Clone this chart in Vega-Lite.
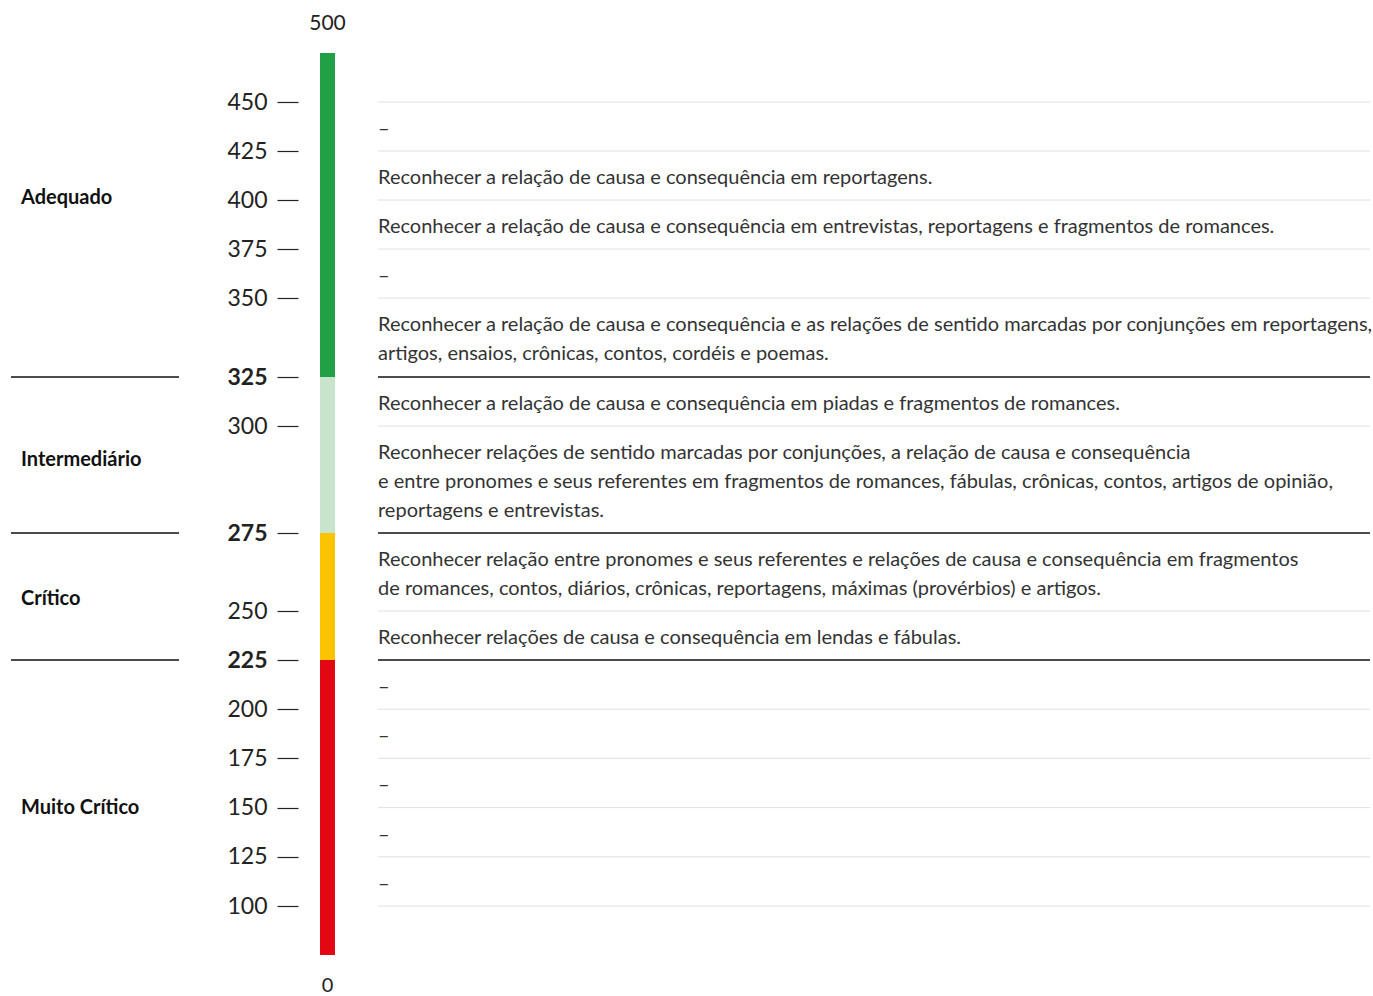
{
  "$schema": "https://vega.github.io/schema/vega-lite/v6.json",
  "padding": {"left": 10, "top": 0, "right": 0, "bottom": 0},
  "background": "white",
  "config": {"view": {"stroke": null}, "font": "Lato"},
  "datasets": {
    "levels": [
      {"level": "Adequado", "min": 325, "max": 500, "mid": 401},
      {"level": "Intermediário", "min": 275, "max": 325, "mid": 292},
      {"level": "Crítico", "min": 225, "max": 275, "mid": 254},
      {"level": "Muito Crítico", "min": 0, "max": 225, "mid": 150}
    ],
    "lines": [
      {"v": 450, "kind": "minor"}, {"v": 425, "kind": "minor"}, {"v": 400, "kind": "minor"},
      {"v": 375, "kind": "minor"}, {"v": 350, "kind": "minor"}, {"v": 325, "kind": "major"},
      {"v": 300, "kind": "minor"}, {"v": 275, "kind": "major"}, {"v": 250, "kind": "minor"},
      {"v": 225, "kind": "major"}, {"v": 200, "kind": "minor"}, {"v": 175, "kind": "minor"},
      {"v": 150, "kind": "minor"}, {"v": 125, "kind": "minor"}, {"v": 100, "kind": "minor"}
    ],
    "rows": [
      {"upper": 450, "desc": "–"},
      {"upper": 425, "desc": "Reconhecer a relação de causa e consequência em reportagens."},
      {"upper": 400, "desc": "Reconhecer a relação de causa e consequência em entrevistas, reportagens e fragmentos de romances."},
      {"upper": 375, "desc": "–"},
      {"upper": 350, "desc": "Reconhecer a relação de causa e consequência e as relações de sentido marcadas por conjunções em reportagens,\nartigos, ensaios, crônicas, contos, cordéis e poemas."},
      {"upper": 325, "desc": "Reconhecer a relação de causa e consequência em piadas e fragmentos de romances."},
      {"upper": 300, "desc": "Reconhecer relações de sentido marcadas por conjunções, a relação de causa e consequência\ne entre pronomes e seus referentes em fragmentos de romances, fábulas, crônicas, contos, artigos de opinião,\nreportagens e entrevistas."},
      {"upper": 275, "desc": "Reconhecer relação entre pronomes e seus referentes e relações de causa e consequência em fragmentos\nde romances, contos, diários, crônicas, reportagens, máximas (provérbios) e artigos."},
      {"upper": 250, "desc": "Reconhecer relações de causa e consequência em lendas e fábulas."},
      {"upper": 225, "desc": "–"},
      {"upper": 200, "desc": "–"},
      {"upper": 175, "desc": "–"},
      {"upper": 150, "desc": "–"},
      {"upper": 125, "desc": "–"}
    ],
    "ends": [{"v": 500}, {"v": 0}]
  },
  "spacing": 46,
  "hconcat": [
    {
      "width": 168,
      "height": 996,
      "layer": [
        {
          "data": {"name": "lines"},
          "transform": [{"filter": "datum.kind == 'major'"}],
          "mark": {"type": "rule", "color": "#111", "strokeWidth": 1.3},
          "encoding": {
            "y": {"field": "v", "type": "quantitative", "axis": null,
              "scale": {"domain": [0, 100, 225, 250, 275, 300, 325, 350, 450, 500], "range": [955, 906, 660, 611, 533, 426, 377, 298, 102, 53], "nice": false, "zero": false}}
          }
        },
        {
          "data": {"name": "levels"},
          "mark": {"type": "text", "align": "left", "baseline": "middle", "dx": 10, "fontSize": 20, "fontWeight": "bold", "color": "#111"},
          "encoding": {
            "x": {"datum": 0, "type": "quantitative", "scale": {"domain": [0, 1]}, "axis": null},
            "y": {"field": "mid", "type": "quantitative", "axis": null},
            "text": {"field": "level", "type": "nominal"}
          }
        }
      ]
    },
    {
      "spacing": 31,
      "hconcat": [
        {
          "width": 15,
          "height": 996,
          "layer": [
            {
              "data": {"name": "levels"},
              "mark": {"type": "rect"},
              "encoding": {
                "y": {"field": "min", "type": "quantitative",
                  "scale": {"domain": [0, 100, 225, 250, 275, 300, 325, 350, 450, 500], "range": [955, 906, 660, 611, 533, 426, 377, 298, 102, 53], "nice": false, "zero": false},
                  "axis": {
                    "values": [100, 125, 150, 175, 200, 225, 250, 275, 300, 325, 350, 375, 400, 425, 450],
                    "title": null, "domain": false, "grid": false, "offset": 22, "tickSize": 21,
                    "tickColor": "#222", "tickWidth": 1.2, "labelPadding": 10, "labelFontSize": 23,
                    "labelColor": "#222", "labelFont": "Lato",
                    "labelFontWeight": {"condition": {"test": "datum.value == 325 || datum.value == 275 || datum.value == 225", "value": "bold"}, "value": "normal"}
                  }},
                "y2": {"field": "max"},
                "color": {"field": "level", "type": "nominal", "legend": null,
                  "scale": {"domain": ["Adequado", "Intermediário", "Crítico", "Muito Crítico"], "range": ["#21a045", "#c8e4cc", "#fcc300", "#e30613"]}}
              }
            },
            {
              "data": {"name": "ends"},
              "transform": [{"filter": "datum.v == 500"}],
              "mark": {"type": "text", "baseline": "middle", "align": "center", "dy": -29, "fontSize": 21, "color": "#222"},
              "encoding": {"y": {"field": "v", "type": "quantitative"}, "text": {"field": "v", "type": "quantitative"}}
            },
            {
              "data": {"name": "ends"},
              "transform": [{"filter": "datum.v == 0"}],
              "mark": {"type": "text", "baseline": "middle", "align": "center", "dy": 31, "fontSize": 20, "color": "#222"},
              "encoding": {"y": {"field": "v", "type": "quantitative"}, "text": {"field": "v", "type": "quantitative"}}
            }
          ]
        },
        {
          "width": 992,
          "height": 996,
          "layer": [
            {
              "data": {"name": "lines"},
              "transform": [{"filter": "datum.kind == 'minor'"}],
              "mark": {"type": "rule", "color": "#e0e0e0", "strokeWidth": 1},
              "encoding": {
                "y": {"field": "v", "type": "quantitative", "axis": null,
                  "scale": {"domain": [0, 100, 225, 250, 275, 300, 325, 350, 450, 500], "range": [955, 906, 660, 611, 533, 426, 377, 298, 102, 53], "nice": false, "zero": false}}
              }
            },
            {
              "data": {"name": "lines"},
              "transform": [{"filter": "datum.kind == 'major'"}],
              "mark": {"type": "rule", "color": "#111", "strokeWidth": 1.3},
              "encoding": {
                "y": {"field": "v", "type": "quantitative", "axis": null}
              }
            },
            {
              "data": {"name": "rows"},
              "mark": {"type": "text", "align": "left", "baseline": "middle", "dy": 27, "fontSize": 20, "lineHeight": 29, "lineBreak": "\n", "color": "#333"},
              "encoding": {
                "x": {"datum": 0, "type": "quantitative", "scale": {"domain": [0, 1]}, "axis": null},
                "y": {"field": "upper", "type": "quantitative", "axis": null},
                "text": {"field": "desc", "type": "nominal"}
              }
            }
          ]
        }
      ]
    }
  ]
}
